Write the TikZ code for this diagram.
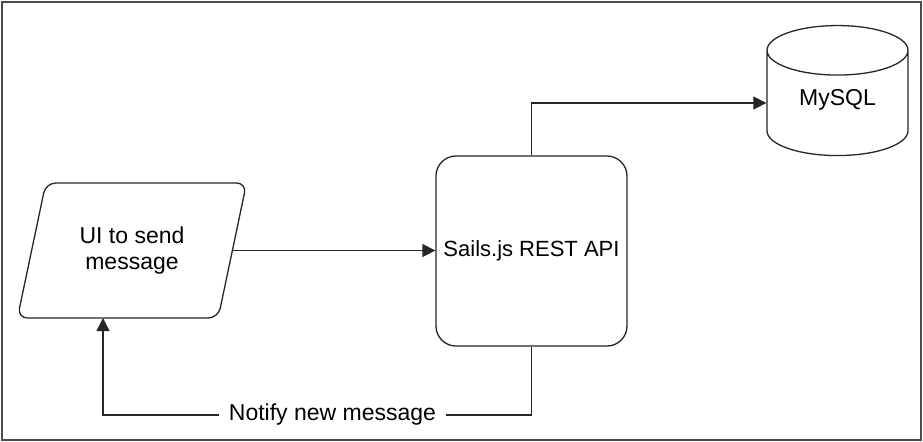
\documentclass[tikz,border=0pt]{standalone}
\usepackage{fontspec}
\setmainfont{Liberation Sans}
\usetikzlibrary{arrows.meta,shapes.geometric}

\tikzset{
	flow/.style={draw=black!85, line width=0.65pt, fill=white, align=center,
		font=\fontsize{11.5pt}{13pt}\selectfont},
	link/.style={draw=black!85, line width=0.65pt},
	linkto/.style={link, -{Triangle[length=6.5pt,width=6.5pt]}}
}

\begin{document}
\begin{tikzpicture}[x=0.5pt, y=-0.5pt]
				\draw[black!70, line width=0.6pt, fill=white] (2,2) rectangle (921,440);
				\useasboundingbox (0,0) rectangle (923,441);
				
				\node[flow, trapezium, trapezium left angle=70, trapezium right angle=110,
					trapezium stretches=true, minimum width=115pt, minimum height=67.5pt,
					rounded corners=5pt, inner sep=0pt] (ui) at (132,250.5) {UI to send\\message};
				\node[flow, rectangle, rounded corners=10pt, minimum width=95.5pt,
					minimum height=95pt, inner xsep=0pt, font=\fontsize{11pt}{13pt}\selectfont]
					(api) at (531.5,251) {Sails.js REST API};
				\node[flow, cylinder, shape border rotate=90, aspect=0.55,
					minimum width=70.5pt, minimum height=65pt] (db) at (837.5,108.5)
					{\smash{\raisebox{1.75pt}{MySQL}}};
				
				\node[font=\fontsize{11.5pt}{13pt}\selectfont, fill=white, inner xsep=5pt]
					(note) at (332.5,415) {Notify new message};
				\coordinate (back) at (103,318);
				
				\draw[linkto] (ui.east) -- (ui.east -| api.west);
				\draw[linkto] (api.north) |- ([yshift=2.75pt]db.west);
				\draw[link] (api.south) |- (note.east);
				\draw[linkto] (note.west) -| (back);
			\end{tikzpicture}
\end{document}
